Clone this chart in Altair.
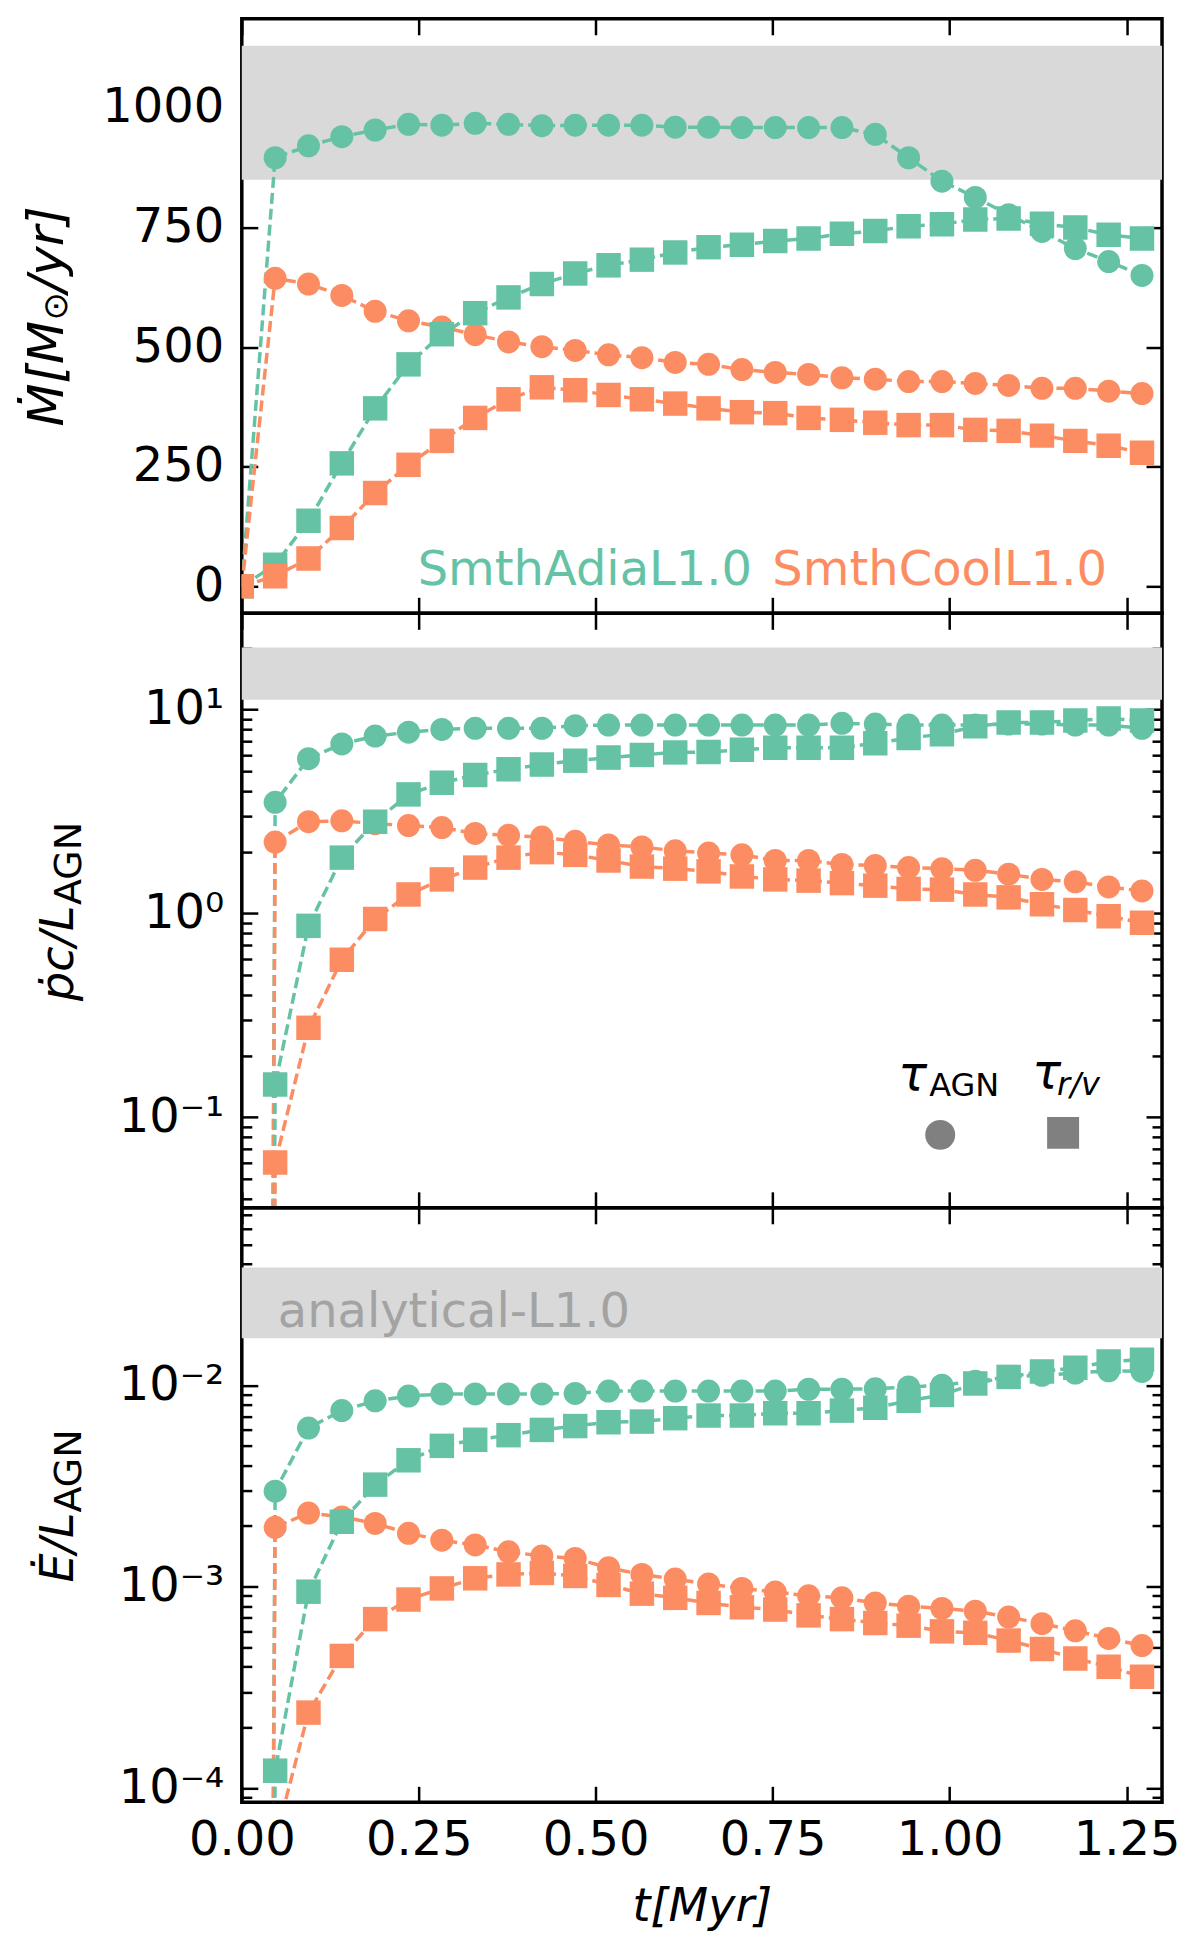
import math

import altair as alt
import pandas as pd

# time of each snapshot [Myr]
STEP = 0.0471
t_myr = [round(k * STEP, 4) for k in range(28)]

# panel 1: mass outflow rate [Msun/yr]
mdot_adia_agn = [0, 896, 921, 940, 954, 966, 964, 968, 966, 963, 964, 964, 964, 960, 960,
                 959, 959, 959, 959, 945, 896, 847, 813, 777, 742, 706, 679, 650]
mdot_cool_agn = [0, 644, 632, 608, 575, 555, 542, 526, 511, 501, 493, 484, 478, 468, 464,
                 453, 447, 443, 436, 433, 428, 428, 424, 420, 414, 414, 408, 403]
mdot_adia_rv = [0, 45, 137, 257, 372, 464, 527, 571, 604, 632, 654, 671, 683, 698, 709,
                714, 722, 727, 737, 743, 753, 757, 767, 769, 758, 750, 735, 727]
mdot_cool_rv = [0, 21, 58, 122, 195, 254, 304, 352, 391, 416, 410, 400, 391, 382, 372,
                364, 362, 352, 348, 342, 337, 337, 327, 325, 315, 304, 294, 279]

# panel 2: momentum rate / (L_AGN / c)
pdot_adia_agn = [0, 3.51, 5.75, 6.79, 7.42, 7.75, 8.0, 8.1, 8.1, 8.1, 8.35, 8.4, 8.4, 8.4, 8.4,
                 8.4, 8.4, 8.4, 8.57, 8.5, 8.4, 8.4, 8.4, 8.5, 8.5, 8.4, 8.4, 8.1]
pdot_cool_agn = [0, 2.24, 2.82, 2.85, 2.76, 2.70, 2.64, 2.47, 2.42, 2.37, 2.26, 2.17, 2.12, 2.03,
                 1.98, 1.94, 1.82, 1.82, 1.74, 1.72, 1.68, 1.66, 1.63, 1.56, 1.47, 1.43, 1.35, 1.29]
pdot_adia_rv = [0, 0.145, 0.87, 1.88, 2.82, 3.84, 4.38, 4.78, 5.1, 5.38, 5.62, 5.82, 6.0, 6.17,
                6.2, 6.36, 6.5, 6.5, 6.5, 6.85, 7.26, 7.58, 8.28, 8.65, 8.65, 8.85, 9.04, 8.85]
pdot_cool_rv = [0, 0.060, 0.275, 0.593, 0.94, 1.24, 1.47, 1.68, 1.88, 2.0, 1.94, 1.82, 1.70, 1.66,
                1.61, 1.52, 1.47, 1.45, 1.41, 1.37, 1.32, 1.31, 1.24, 1.2, 1.11, 1.04, 0.97, 0.90]

# panel 3: energy rate / L_AGN
edot_adia_agn = [0, 2.98e-3, 6.13e-3, 7.48e-3, 8.37e-3, 8.83e-3, 9.05e-3, 9.05e-3, 9.05e-3,
                 9.05e-3, 9.1e-3, 9.35e-3, 9.35e-3, 9.35e-3, 9.35e-3, 9.35e-3, 9.35e-3, 9.55e-3,
                 9.55e-3, 9.6e-3, 9.8e-3, 1.0e-2, 1.045e-2, 1.10e-2, 1.12e-2, 1.15e-2, 1.18e-2, 1.17e-2]
edot_cool_agn = [0, 1.97e-3, 2.32e-3, 2.22e-3, 2.06e-3, 1.84e-3, 1.70e-3, 1.61e-3, 1.49e-3,
                 1.42e-3, 1.38e-3, 1.24e-3, 1.15e-3, 1.09e-3, 1.03e-3, 0.98e-3, 0.94e-3, 0.90e-3,
                 0.88e-3, 0.83e-3, 0.80e-3, 0.78e-3, 0.755e-3, 0.706e-3, 0.655e-3, 0.604e-3,
                 0.553e-3, 0.51e-3]
edot_adia_rv = [0, 1.22e-4, 9.44e-4, 2.1e-3, 3.21e-3, 4.24e-3, 5.0e-3, 5.36e-3, 5.65e-3, 6.0e-3,
                6.27e-3, 6.55e-3, 6.6e-3, 6.86e-3, 7.07e-3, 7.07e-3, 7.26e-3, 7.26e-3, 7.48e-3,
                7.73e-3, 8.37e-3, 8.95e-3, 1.02e-2, 1.10e-2, 1.17e-2, 1.22e-2, 1.31e-2, 1.34e-2]
edot_cool_rv = [0, 5.5e-5, 2.37e-4, 4.53e-4, 6.9e-4, 8.63e-4, 0.98e-3, 1.10e-3, 1.15e-3, 1.17e-3,
                1.13e-3, 1.02e-3, 0.923e-3, 0.88e-3, 0.83e-3, 0.79e-3, 0.77e-3, 0.72e-3, 0.69e-3,
                0.66e-3, 0.64e-3, 0.60e-3, 0.59e-3, 0.54e-3, 0.49e-3, 0.44e-3, 0.40e-3, 0.357e-3]

# analytical expectation bands (low, high)
mdot_band = [850, 1130]
pdot_band = [11.2, 20.2]
edot_band = [0.0171, 0.0384]

RUNS = ["SmthAdiaL1.0", "SmthCoolL1.0"]
TAUS = ["agn", "rv"]
COLORS = ["#66c2a5", "#fc8d62"]
FONT = "DejaVu Sans"
X_DOMAIN = [0, 1.30]
X_TICKS = [0, 0.25, 0.5, 0.75, 1.0, 1.25]
W, H = 921, 595
MAJ, MIN = 16, 10
SUP = {"-4": "⁻⁴", "-3": "⁻³", "-2": "⁻²", "-1": "⁻¹", "0": "⁰", "1": "¹"}

ONE = pd.DataFrame({"_": [0]})


def series_frame(adia_agn, cool_agn, adia_rv, cool_rv, log=False):
    rows = []
    sets = [(RUNS[0], "agn", adia_agn), (RUNS[1], "agn", cool_agn),
            (RUNS[0], "rv", adia_rv), (RUNS[1], "rv", cool_rv)]
    for order, (run, tau, vals) in enumerate(sets):
        for t, v in zip(t_myr, vals):
            # like matplotlib's log clipping: zero becomes a tiny positive number
            if log and v <= 0:
                v = 1e-30
            rows.append({"t": t, "v": v, "run": run, "tau": tau,
                         "series": run + tau, "order": order})
    return pd.DataFrame(rows)


def yaxis(orient, values, size, labels=False, expr=None, fmt=None):
    kw = dict(orient=orient, values=values, tickSize=size, offset=-size, domain=False,
              grid=False, labels=labels, title=None, tickWidth=2.5, tickColor="black",
              labelFont=FONT, labelFontSize=48, labelColor="black", labelPadding=18,
              minExtent=0)
    if expr:
        kw["labelExpr"] = expr
    if fmt:
        kw["format"] = fmt
    return alt.Axis(**kw)


def xaxis(orient, labels=False, title=None):
    kw = dict(orient=orient, values=X_TICKS, tickSize=MAJ, offset=-MAJ, domain=False,
              grid=False, labels=labels, tickWidth=2.5, tickColor="black", format=".2f",
              labelFont=FONT, labelFontSize=48, labelColor="black", labelPadding=14,
              labelFlush=False, minExtent=0)
    if title:
        kw.update(title=title, titleFont=FONT, titleFontSize=46, titleFontStyle="italic",
                  titleFontWeight="normal", titleColor="black", titlePadding=20)
    else:
        kw["title"] = None
    return alt.Axis(**kw)


def log_expr(values):
    exps = [round(math.log10(v)) for v in values]
    expr = "'10" + SUP[str(exps[-1])] + "'"
    for e in reversed(exps[:-1]):
        expr = f"datum.value < {10 ** (e + 0.5):.6g} ? '10{SUP[str(e)]}' : " + expr
    return expr


def minor_ticks(dom):
    out = []
    for e in range(-6, 3):
        for m in range(2, 10):
            v = m * 10.0 ** e
            if dom[0] <= v <= dom[1]:
                out.append(v)
    return out


def text(txt, x, y, size=48, color="black", style="normal", angle=0, align="left"):
    return alt.Chart(ONE).mark_text(
        font=FONT, fontSize=size, color=color, fontStyle=style, angle=angle,
        align=align, baseline="alphabetic"
    ).encode(x=alt.value(x), y=alt.value(y), text=alt.value(txt))


def panel(df, band, ydom, log, major, xlabels, extras):
    yscale = alt.Scale(type="log", domain=ydom, nice=False) if log else \
        alt.Scale(domain=ydom, nice=False, zero=False)
    xscale = alt.Scale(domain=X_DOMAIN, nice=False, zero=False)
    color = alt.Color("run:N", scale=alt.Scale(domain=RUNS, range=COLORS), legend=None)
    if log:
        left = yaxis("left", major, MAJ, labels=True, expr=log_expr(major))
        minors = minor_ticks(ydom)
    else:
        left = yaxis("left", major, MAJ, labels=True, fmt="d")
    band_df = pd.DataFrame({"lo": [band[0]], "hi": [band[1]],
                            "t0": [X_DOMAIN[0]], "t1": [X_DOMAIN[1]]})

    band_l = alt.Chart(band_df).mark_rect(color="#d9d9d9").encode(
        x=alt.X("t0:Q", scale=xscale, axis=None), x2="t1:Q",
        y=alt.Y("lo:Q", scale=yscale,
                axis=yaxis("left", minors, MIN) if log else None), y2="hi:Q")
    layers = [band_l]
    if log:
        band_r = alt.Chart(band_df).mark_rect(opacity=0).encode(
            x=alt.X("t0:Q", scale=xscale, axis=None), x2="t1:Q",
            y=alt.Y("lo:Q", scale=yscale, axis=yaxis("right", minors, MIN)), y2="hi:Q")
        layers.append(band_r)

    lines = alt.Chart(df).mark_line(strokeDash=[11, 5], strokeWidth=3.5, clip=True).encode(
        x=alt.X("t:Q", scale=xscale,
                axis=xaxis("bottom", labels=True, title="t[Myr]") if xlabels else xaxis("bottom")),
        y=alt.Y("v:Q", scale=yscale, axis=left),
        color=color, detail="series:N", order="t:Q")
    points = alt.Chart(df).mark_point(filled=True, opacity=1, clip=True).encode(
        x=alt.X("t:Q", scale=xscale, axis=xaxis("top")),
        y=alt.Y("v:Q", scale=yscale, axis=yaxis("right", major, MAJ)),
        color=color,
        shape=alt.Shape("tau:N", scale=alt.Scale(domain=TAUS, range=["circle", "square"]),
                        legend=None),
        size=alt.Size("tau:O", scale=alt.Scale(domain=TAUS, range=[530, 600]), legend=None),
        order=alt.Order("order:Q"))
    layers += [lines, points] + extras
    return alt.layer(*layers).resolve_axis(x="independent", y="independent").properties(
        width=W, height=H)


top = panel(
    series_frame(mdot_adia_agn, mdot_cool_agn, mdot_adia_rv, mdot_cool_rv),
    mdot_band, [-56.5, 1186.5], False, [0, 250, 500, 750, 1000], False,
    [
        text("SmthAdiaL1.0", 176, 567, color=COLORS[0]),
        text("SmthCoolL1.0", 531, 567, color=COLORS[1]),
        text("Ṁ[M", -179, 408, size=50, style="italic", angle=270),
        text("⊙", -175, 302, size=34, angle=270),
        text("/yr]", -179, 274, size=50, style="italic", angle=270),
    ],
)

mid = panel(
    series_frame(pdot_adia_agn, pdot_cool_agn, pdot_adia_rv, pdot_cool_rv, log=True),
    pdot_band, [0.036, 29.7], True, [0.1, 1, 10], False,
    [
        text("ṗc/L", -169, 388, size=46, style="italic", angle=270),
        text("AGN", -161, 292, size=38, angle=270),
        text("τ", 657, 477, style="italic"),
        text("AGN", 688, 483, size=32),
        text("τ", 791, 475, style="italic"),
        text("r/v", 816, 482, size=32, style="italic"),
        alt.Chart(ONE).mark_point(shape="circle", filled=True, opacity=1, size=900,
                                  color="#808080").encode(x=alt.value(699), y=alt.value(522)),
        alt.Chart(ONE).mark_point(shape="square", filled=True, opacity=1, size=1024,
                                  color="#808080").encode(x=alt.value(822), y=alt.value(520)),
    ],
)

bot = panel(
    series_frame(edot_adia_agn, edot_cool_agn, edot_adia_rv, edot_cool_rv, log=True),
    edot_band, [8.5e-5, 0.076], True, [1e-4, 1e-3, 1e-2], True,
    [
        text("analytical-L1.0", 36, 119, color="#a3a3a3"),
        text("Ė/L", -169, 375, size=46, style="italic", angle=270),
        text("AGN", -161, 305, size=38, angle=270),
    ],
)

chart = alt.vconcat(top, mid, bot, spacing=0, bounds="flush").properties(
    padding={"left": 13, "top": 7, "right": 10, "bottom": 5}
).configure_view(stroke="black", strokeWidth=3.5)

chart.save("out.html", embed_options={"renderer": "svg", "actions": False})
